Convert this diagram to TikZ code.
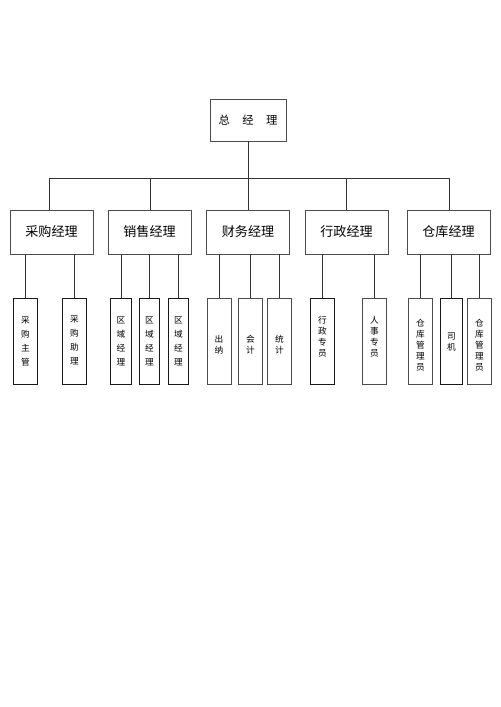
\documentclass[tikz,border=0pt]{standalone}
\usepackage{fontspec}
\newfontfamily\cjk{Noto Sans CJK SC}
\begin{document}
\begin{tikzpicture}[x=0.75pt,y=-0.75pt,
  box/.style={draw=black!70,line width=0.6pt,fill=white,inner sep=0pt},
  topbox/.style={box,minimum width=57pt,minimum height=31.5pt,font=\cjk\fontsize{8.5pt}{10pt}\selectfont},
  mgr/.style={box,minimum width=62.25pt,minimum height=33pt,font=\cjk\fontsize{9.8pt}{11pt}\selectfont},
  leaf/.style={box,minimum width=18.5pt,minimum height=65pt},
  leafthick/.style={leaf,draw=black!90,line width=0.9pt},
  ltxt/.style={align=center,inner sep=0pt,font=\cjk\fontsize{6.5pt}{10.5pt}\selectfont},
  ltxts/.style={align=center,inner sep=0pt,font=\cjk\fontsize{6.5pt}{8.3pt}\selectfont},
  conn/.style={draw=black!80,line width=0.6pt}]
\fill[white] (0,0) rectangle (500,707);
\useasboundingbox (0,0) rectangle (500,707);

% top
\node[topbox] (top) at (248,120) {总\hspace{1.1em}经\hspace{1.1em}理};

% managers
\node[mgr] (m1) at (51.5,232) {采购经理};
\node[mgr] (m2) at (149.5,232) {销售经理};
\node[mgr] (m3) at (248,232) {财务经理};
\node[mgr] (m4) at (346.5,232) {行政经理};
\node[mgr] (m5) at (448.5,232) {仓库经理};

% bus
\coordinate (bus) at (248,178);
\coordinate (b1) at (49,178);
\coordinate (b2) at (150,178);
\coordinate (b4) at (346,178);
\coordinate (b5) at (449,178);
\draw[conn] (top.south) -- (bus);
\draw[conn] (b1) -- (b5);
\draw[conn] (b1) -- (b1 |- m1.north);
\draw[conn] (b2) -- (b2 |- m2.north);
\draw[conn] (bus) -- (m3.north);
\draw[conn] (b4) -- (b4 |- m4.north);
\draw[conn] (b5) -- (b5 |- m5.north);

% leaves
\node[leafthick] (l1) at (25.5,341.5) {};
\node[leafthick] (l2) at (74.5,341.5) {};
\node[leafthick,minimum width=15.5pt] (l3) at (121,341.5) {};
\node[leafthick,minimum width=15.5pt] (l4) at (149.5,341.5) {};
\node[leafthick,minimum width=15.5pt] (l5) at (178.5,341.5) {};
\node[leaf,minimum width=18pt] (l6) at (219,341.5) {};
\node[leaf] (l7) at (250.5,341.5) {};
\node[leaf] (l8) at (279.5,341.5) {};
\node[leafthick] (l9) at (322.5,341.5) {};
\node[leaf] (l10) at (374.5,341.5) {};
\node[leaf] (l11) at (420.5,341.5) {};
\node[leafthick,minimum width=17pt] (l12) at (451.5,341.5) {};
\node[leaf,minimum width=17.5pt] (l13) at (479.5,341.5) {};

\foreach \l/\m in {l1/m1,l2/m1,l3/m2,l4/m2,l5/m2,l6/m3,l7/m3,l8/m3,l9/m4,l10/m4,l11/m5,l12/m5,l13/m5}
  \draw[conn] (\l.north) -- (\l.north |- \m.south);

% leaf texts
\node[ltxt] (t1) at (25.5,341) {采\\购\\主\\管};
\node[ltxt] (t2) at (74.5,340) {采\\购\\助\\理};
\node[ltxt] (t3) at (121,341) {区\\域\\经\\理};
\node[ltxt] (t4) at (149.5,341) {区\\域\\经\\理};
\node[ltxt] (t5) at (178.5,341) {区\\域\\经\\理};
\node[ltxts] (t6) at (219,345) {出\\纳};
\node[ltxts] (t7) at (250.5,345) {会\\计};
\node[ltxts] (t8) at (279.5,345) {统\\计};
\node[ltxts] (t9) at (322.5,337) {行\\政\\专\\员};
\node[ltxts] (t10) at (374.5,337) {人\\事\\专\\员};
\node[ltxts] (t11) at (420.5,345) {仓\\库\\管\\理\\员};
\node[ltxts] (t12) at (451.5,342) {司\\机};
\node[ltxts] (t13) at (479.5,345) {仓\\库\\管\\理\\员};
\end{tikzpicture}
\end{document}
